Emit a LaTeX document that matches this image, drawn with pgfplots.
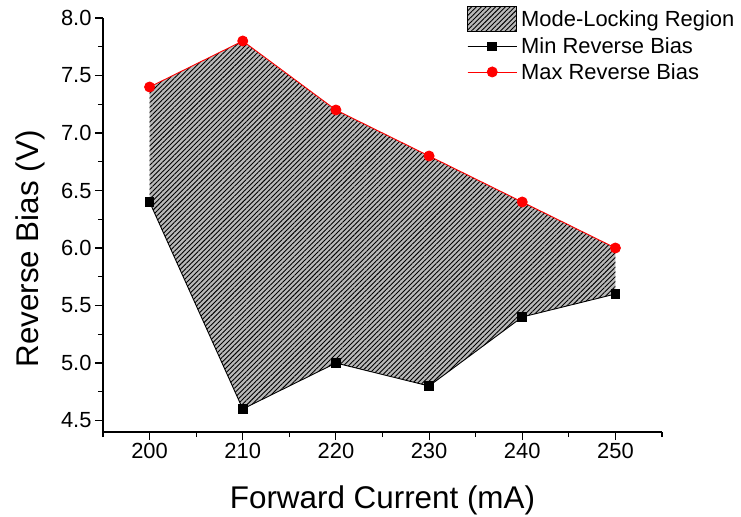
\documentclass[border=0pt]{standalone}
\usepackage{pgfplots}
\pgfplotsset{compat=1.18}
\usepackage{fontspec}
\setmainfont{Liberation Sans}
\usetikzlibrary{patterns.meta}

\definecolor{hatchbg}{RGB}{185,185,185}
\tikzset{hatched/.style={fill=hatchbg, postaction={pattern={Lines[angle=45,distance=3.4bp,line width=0.9bp]}, pattern color=black}}}

\begin{document}
\begin{tikzpicture}
\begin{axis}[
  name=ax,
  scale only axis,
  width=559bp, height=414bp,
  xmin=195, xmax=255,
  ymin=4.4, ymax=8.0,
  axis lines=left,
  axis line style={line width=1.3bp, -},
  xtick={200,210,...,250},
  ytick={4.5,5.0,...,8.0},
  minor xtick={195,205,...,255},
  minor ytick={4.75,5.25,...,7.75},
  tick align=outside,
  major tick length=8bp,
  minor tick length=5bp,
  every tick/.style={black, line width=1.1bp},
  tick label style={font=\fontsize{22}{25}\selectfont},
  /pgf/number format/assume math mode=true,
  yticklabel style={/pgf/number format/.cd, fixed, fixed zerofill, precision=1},
  xlabel={Forward Current (mA)},
  ylabel={Reverse Bias (V)},
  label style={font=\fontsize{31.5}{36}\selectfont},
  xlabel style={yshift=-20bp},
  ylabel style={at={(ticklabel cs:0.442)}, yshift=9bp},
  clip=false,
  legend cell align=left,
  legend style={
    at={(0.646,1.034)}, anchor=north west,
    draw=none, fill=none,
    font=\fontsize{22}{25}\selectfont,
    row sep=4bp,
    nodes={inner xsep=4bp},
  },
  legend image code/.code={
    \draw[#1] (0bp,0bp) -- (49bp,0bp);
    \draw[#1, mark repeat=2, mark phase=2] plot coordinates {(0bp,0bp) (24.5bp,0bp) (49bp,0bp)};
  },
]
% mode-locking window between the two bias limits
\addplot[hatched, draw=none, forget plot] coordinates {
  (200,7.4) (210,7.8) (220,7.2) (230,6.8) (240,6.4) (250,6.0)
  (250,5.6) (240,5.4) (230,4.8) (220,5.0) (210,4.6) (200,6.4)
} -- cycle;
\addlegendimage{legend image code/.code={
  \draw[hatched, draw=black, line width=0.8bp] (0bp,-12.5bp) rectangle (49bp,12.5bp);
}}
\addlegendentry{Mode-Locking Region}

\addplot[black, line width=0.9bp, mark=square*, mark size=4.3bp, mark options={solid}] coordinates {
  (200,6.4) (210,4.6) (220,5.0) (230,4.8) (240,5.4) (250,5.6)
};
\addlegendentry{Min Reverse Bias}

\addplot[red, line width=0.9bp, mark=*, mark size=5bp] coordinates {
  (200,7.4) (210,7.8) (220,7.2) (230,6.8) (240,6.4) (250,6.0)
};
\addlegendentry{Max Reverse Bias}
\end{axis}
\pgfresetboundingbox
\path ([shift={(-103bp,-85bp)}]ax.south west) rectangle ([shift={(638bp,432bp)}]ax.south west);
\end{tikzpicture}
\end{document}
